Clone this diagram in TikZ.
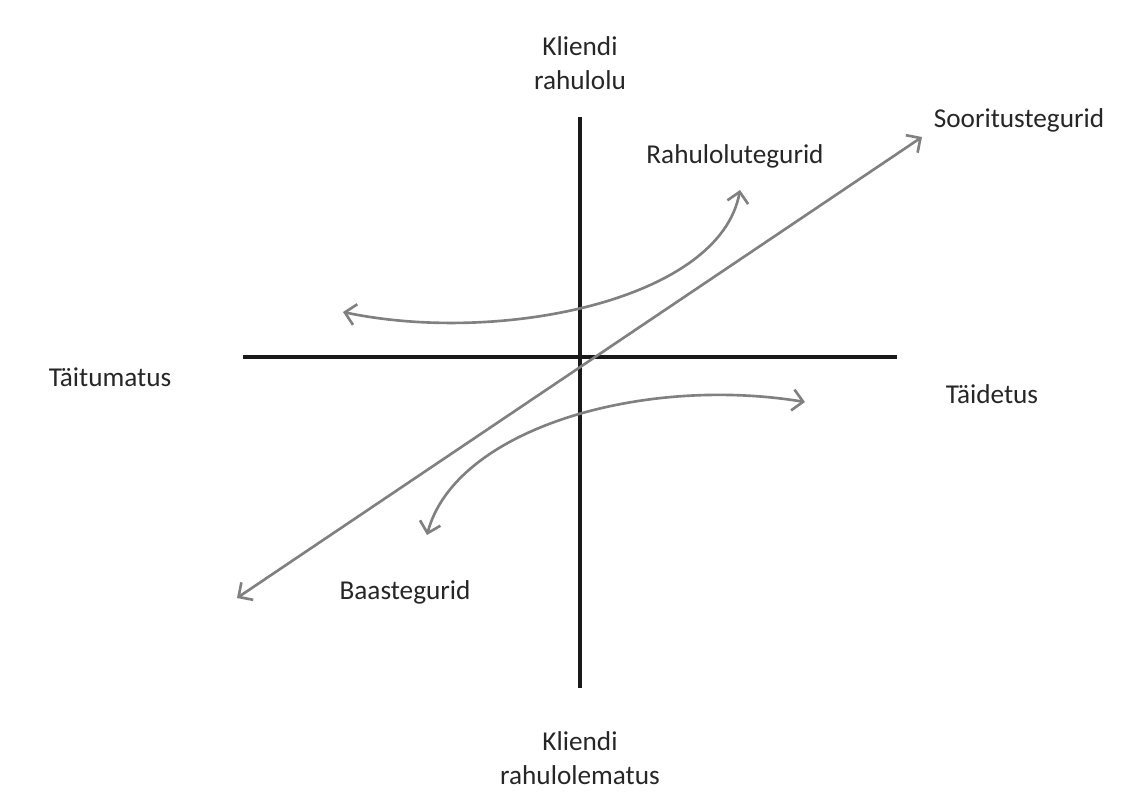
\documentclass[tikz,border=0pt]{standalone}
\usepackage{fontspec}
\setmainfont{Carlito}
\usetikzlibrary{arrows.meta}
\tikzset{
  axis/.style={line width=2.6pt, black!90},
  flow/.style={line width=1.5pt, black!50, {Straight Barb[length=6pt,width=12pt]}-{Straight Barb[length=6pt,width=12pt]}},
  lbl/.style={font=\fontsize{15.5}{19}\selectfont, text=black!85, align=center, inner sep=0pt}
}
\begin{document}
\begin{tikzpicture}[x=0.02cm, y=-0.02cm]
  \useasboundingbox (0,0) rectangle (1139,801);
  % Axes
  \coordinate (west) at (243,357);
  \coordinate (east) at (897,357);
  \coordinate (north) at (580,117);
  \coordinate (south) at (580,688);
  \draw[axis] (west) -- (east);
  \draw[axis] (north) -- (south);
  % Performance factors: straight line
  \coordinate (perfLo) at (237,598);
  \coordinate (perfHi) at (922,137);
  \draw[flow] (perfLo) -- (perfHi);
  % Excitement factors: upper curve
  \coordinate (excLeft) at (343,312);
  \coordinate (excTop) at (740,190);
  \draw[flow] (excLeft) .. controls (500,345) and (720,300) .. (excTop);
  % Basic factors: lower curve
  \coordinate (basBot) at (427,535);
  \coordinate (basRight) at (805,402);
  \draw[flow] (basBot) .. controls (455,430) and (640,375) .. (basRight);
  % Labels
  \node[lbl] (satisfied) at (580,63) {Kliendi\\rahulolu};
  \node[lbl] (dissatisfied) at (580,758) {Kliendi\\rahulolematus};
  \node[lbl] (absent) at (110,377) {Täitumatus};
  \node[lbl] (present) at (992,394) {Täidetus};
  \node[lbl] (excite) at (735,156) {Rahulolutegurid};
  \node[lbl] (perform) at (1019,120) {Sooritustegurid};
  \node[lbl] (basic) at (405,592) {Baastegurid};
\end{tikzpicture}
\end{document}
